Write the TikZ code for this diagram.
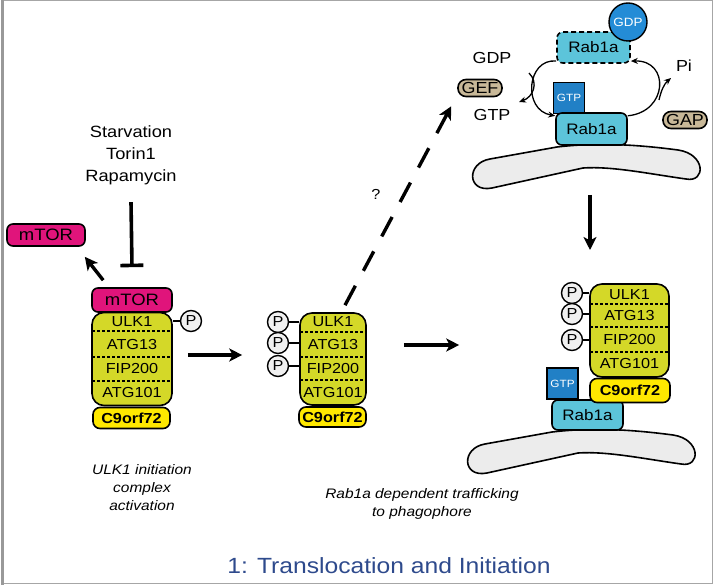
\documentclass[tikz,border=0pt]{standalone}
\usepackage{fontspec}
\setmainfont{Liberation Sans}[FakeStretch=1.12]
\usetikzlibrary{arrows.meta}
\definecolor{mtormag}{RGB}{224,20,123}
\definecolor{ulkyel}{RGB}{212,216,40}
\definecolor{cnineyel}{RGB}{255,232,0}
\definecolor{rabcyan}{RGB}{92,196,218}
\definecolor{gtpblue}{RGB}{33,128,198}
\definecolor{gdpblue}{RGB}{36,140,214}
\definecolor{gefTan}{RGB}{200,184,152}
\definecolor{memgray}{RGB}{236,236,236}
\definecolor{titleblue}{RGB}{46,74,140}
\begin{document}
\begin{tikzpicture}[x=1pt,y=-1pt,
    box/.style={draw,line width=1.6pt,inner sep=0pt,rounded corners=6pt},
    mtor/.style={box,fill=mtormag,minimum height=24pt,font=\fontsize{16.5}{18}\selectfont},
    body/.style={box,fill=ulkyel,rounded corners=12pt},
    cnine/.style={box,fill=cnineyel,rounded corners=7pt,font=\fontsize{14.5}{16}\selectfont\bfseries},
    sub/.style={font=\fontsize{14.5}{16}\selectfont},
    divider/.style={line width=1.1pt,dash pattern=on 3pt off 2pt},
    phos/.style={draw,circle,line width=1.4pt,fill=black!6,minimum size=21pt,inner sep=0pt,font=\fontsize{14.5}{16}\selectfont},
    rab/.style={box,fill=rabcyan,font=\fontsize{15.2}{17}\selectfont},
    gtpsq/.style={draw,line width=1.4pt,fill=gtpblue,text=white,minimum size=31pt,inner sep=0pt,font=\fontsize{10.5}{12}\selectfont},
    pill/.style={box,fill=gefTan,rounded corners=8pt,minimum width=44pt,minimum height=17pt,font=\fontsize{16}{17}\selectfont},
    big/.style={font=\fontsize{16}{18}\selectfont},
    caption/.style={align=center,font=\fontsize{13.8}{18}\selectfont\itshape},
    membrane/.style={draw,line width=1.6pt,fill=memgray},
    arr/.style={line width=3.4pt,-{Stealth[length=13pt,width=13pt,inset=3.5pt]}},
    cyc/.style={line width=1.3pt,-{Stealth[length=7pt,width=6pt]}}]
  \useasboundingbox (0,0) rectangle (715,585);
  \draw[black!35,line width=1pt] (2,1) rectangle (712,583);
  \draw[black!40,line width=3pt] (2,0) -- (2,585);

  % membranes
  \draw[membrane] (490,159) -- (557,147) .. controls (600,142) and (640,145) .. (678,150)
    .. controls (706,154) and (706,183) .. (686,179) .. controls (650,174) and (612,166) .. (583,168)
    -- (492,188) .. controls (467,193) and (466,163) .. (490,159) -- cycle;
  \draw[membrane,shift={(-5,285)}] (490,159) -- (557,147) .. controls (600,142) and (640,145) .. (678,150)
    .. controls (706,154) and (706,183) .. (686,179) .. controls (650,174) and (612,166) .. (583,168)
    -- (492,188) .. controls (467,193) and (466,163) .. (490,159) -- cycle;

  % left: inactive complex
  \node[mtor,minimum width=78pt,minimum height=22pt] (mtorFree) at (46,235) {mTOR};
  \node[align=center,font=\fontsize{16.3}{22}\selectfont] (stim) at (131,155) {Starvation\\Torin1\\Rapamycin};
  \node[body,minimum width=80pt,minimum height=93pt] (ulkA) at (132,359) {};
  \node[mtor,minimum width=80pt] (mtorA) at (132,300) {mTOR};
  \node[cnine,minimum width=77pt,minimum height=21pt] (cnineA) at (131.5,418) {C9orf72};
  \foreach \yy in {331,357,381} \draw[divider] (92,\yy) -- (172,\yy);
  \foreach \lbl/\yy in {ULK1/322,ATG13/345,FIP200/369,ATG101/393}
    \node[sub] (A\lbl) at (132,\yy) {\lbl};
  \node[phos] (pA) at (191,321) {P};
  \draw[line width=1.4pt] (pA) -- (pA -| ulkA.east);
  \draw[line width=3.6pt,-{Bar[width=23pt,line width=3.6pt]}] ([yshift=-14pt]stim.south) -- ([yshift=20pt]mtorA.north);
  \draw[arr] ([xshift=12pt,yshift=7pt]mtorA.north west) -- ([xshift=-1pt,yshift=-10pt]mtorFree.south east);

  % middle: phosphorylated complex
  \node[body,minimum width=66pt,minimum height=92pt] (ulkB) at (333,359) {};
  \node[cnine,minimum width=67pt,minimum height=20pt] (cnineB) at (332.5,417) {C9orf72};
  \foreach \yy in {332,357,380} \draw[divider] (300,\yy) -- (366,\yy);
  \foreach \lbl/\yy in {ULK1/322,ATG13/345,FIP200/369,ATG101/393}
    \node[sub] (B\lbl) at (333,\yy) {\lbl};
  \foreach \yy [count=\i] in {322,343,366} {
    \node[phos] (pB\i) at (278,\yy) {P};
    \draw[line width=1.4pt] (pB\i) -- (pB\i -| ulkB.west);
  }
  \draw[arr] ([xshift=15pt,yshift=4pt]ulkA.east) -- ([xshift=-57pt,yshift=4pt]ulkB.west);

  % right: complex on membrane
  \node[gtpsq] (gtpR) at (562.5,383.5) {GTP};
  \node[rab,minimum width=71pt,minimum height=30pt] (rabR) at (587.5,415) {Rab1a};
  \node[body,minimum width=79pt,minimum height=93pt] (ulkC) at (629.5,330.5) {};
  \node[cnine,minimum width=80pt,minimum height=24pt] (cnineC) at (630,390.5) {C9orf72};
  \foreach \yy in {304,327,352} \draw[divider] (590,\yy) -- (669,\yy);
  \foreach \lbl/\yy in {ULK1/295,ATG13/316,FIP200/340,ATG101/364}
    \node[sub] (C\lbl) at (629.5,\yy) {\lbl};
  \foreach \yy [count=\i] in {293,314,340} {
    \node[phos] (pC\i) at (572,\yy) {P};
    \draw[line width=1.4pt] (pC\i) -- (pC\i -| ulkC.west);
  }
  \draw[arr] ([xshift=37pt,yshift=14pt]ulkB.east) -- ([xshift=-130pt,yshift=-14.5pt]ulkC.west);

  % Rab1a cycle
  \node[rab,dashed,dash pattern=on 5pt off 3pt,minimum width=73pt,minimum height=31pt] (rabD) at (593.5,47.5) {Rab1a};
  \node[draw,circle,line width=1.4pt,fill=gdpblue,text=white,minimum size=38pt,inner sep=0pt,
    font=\fontsize{12}{13}\selectfont] (gdpC) at (628,22) {GDP};
  \node[gtpsq] (gtpT) at (569,98) {GTP};
  \node[rab,minimum width=71pt,minimum height=32pt] (rabS) at (591.5,129) {Rab1a};
  \node[big] (gdpL) at (492,58) {GDP};
  \node[big] (gtpL) at (492,115) {GTP};
  \node[big] (piL) at (684,66) {Pi};
  \node[pill] (gef) at (480,88) {GEF};
  \node[pill] (gap) at (685,120) {GAP};
  \coordinate (gefOut) at (519,102);
  \coordinate (gapOut) at (671,78);
  \draw[cyc] (rabD.200) .. controls (527,58) and (522,110) .. (rabS.160);
  \draw[cyc] (529,73) .. controls (539,83) and (533,97) .. (gefOut);
  \draw[cyc] (rabS.20) .. controls (668,112) and (670,60) .. (rabD.340);
  \draw[cyc] (659,100) .. controls (661,91) and (664,84) .. (gapOut);

  % trafficking
  \coordinate (downA) at (590,195);
  \coordinate (downB) at (590,250);
  \draw[arr] (downA) -- (downB);
  \draw[line width=3.4pt,dash pattern=on 22pt off 17pt,-{Stealth[length=13pt,width=13pt,inset=3.5pt]}]
    ([xshift=12pt,yshift=7pt]ulkB.north) -- ([xshift=-6pt,yshift=-9pt]gef.south west);
  \node[font=\fontsize{14.5}{16}\selectfont] (qm) at (376,194) {?};

  % captions
  \node[caption] (capA) at (142,488) {ULK1 initiation\\complex\\activation};
  \node[caption] (capB) at (422,504) {Rab1a dependent trafficking\\to phagophore};
  \node[font=\fontsize{22}{25}\selectfont,text=titleblue] (title) at (389,566) {1: Translocation and Initiation};
\end{tikzpicture}
\end{document}
